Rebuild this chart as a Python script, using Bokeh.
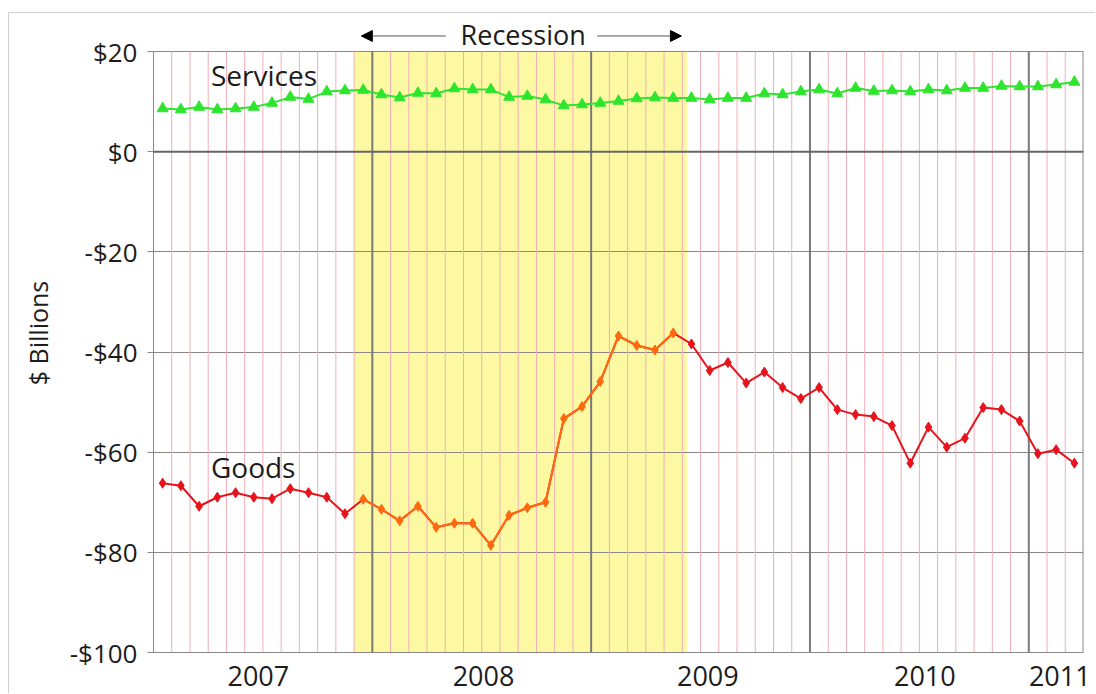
from bokeh.plotting import figure
from bokeh.models import FixedTicker, Span, BoxAnnotation, Arrow, NormalHead, ColumnDataSource
from bokeh.embed import file_html
from bokeh.resources import INLINE
from bokeh.core.properties import value

# ---------------- data ----------------
months = [f"{y}-{m:02d}" for y in range(2007, 2012) for m in range(1, 13)][:51]

services = [8.6, 8.4, 8.9, 8.4, 8.6, 8.9, 9.7, 10.9, 10.5, 12.0,
            12.2, 12.3, 11.4, 10.8, 11.7, 11.6, 12.6, 12.4, 12.4, 10.9,
            11.1, 10.4, 9.2, 9.4, 9.7, 10.1, 10.6, 10.8, 10.7, 10.7,
            10.4, 10.7, 10.7, 11.6, 11.4, 12.0, 12.4, 11.6, 12.7, 12.1,
            12.2, 12.0, 12.4, 12.2, 12.7, 12.7, 13.1, 13.0, 13.0, 13.4,
            13.9]

goods = [-66.2, -66.7, -70.8, -69.0, -68.1, -69.0, -69.3, -67.3, -68.1, -69.0,
         -72.3, -69.4, -71.4, -73.7, -70.8, -75.0, -74.2, -74.2, -78.6, -72.6,
         -71.1, -70.0, -53.3, -50.9, -45.9, -36.8, -38.7, -39.6, -36.2, -38.4,
         -43.7, -42.1, -46.2, -44.0, -47.1, -49.3, -47.1, -51.5, -52.5, -52.9,
         -54.7, -62.2, -55.0, -59.0, -57.2, -51.1, -51.5, -53.8, -60.3, -59.5,
         -62.2]

y_ticks = [-100, -80, -60, -40, -20, 0, 20]
y_tick_labels = ["-$100", "-$80", "-$60", "-$40", "-$20", "$0", "$20"]
year_labels = ["2007", "2008", "2009", "2010", "2011"]
recession_first, recession_last = "2007-12", "2009-05"

# ---------------- layout helpers ----------------
x = list(range(len(months)))
FONT = "Open Sans"
TXT = "#1c1c1c"
YELLOW = "#fdf9a3"
RED = "#e8141c"
ORANGE = "#ff6a10"
GREEN = "#2de52d"

y_lo, y_hi = y_ticks[0], y_ticks[-1]
i_rec0 = months.index(recession_first)
i_rec1 = months.index(recession_last)
band_left = i_rec0 - 0.5
band_right = i_rec1 + 0.75

year_bounds = [i - 0.5 for i in x if months[i].endswith("-01") and i > 0]
month_bounds = [i + 0.5 for i in x[:-1] if (i + 0.5) not in year_bounds]
year_pos = [5.25, 17.6, 29.9, 41.8, 49.2]

PX_PER_UNIT = 601 / (y_hi - y_lo)
top_pad = 38 / PX_PER_UNIT  # space above the $20 line, inside the frame

p = figure(width=1087, height=681, output_backend="svg", toolbar_location=None,
           x_range=(-0.5, len(months) - 0.5), y_range=(y_lo, y_hi + top_pad),
           min_border_left=144, min_border_right=13, min_border_top=0, min_border_bottom=42,
           background_fill_color="white", border_fill_color="white")
p.margin = (12, 0, 0, 8)
p.styles = {"border-left": "1px solid #d0d0d0", "border-top": "1px solid #d0d0d0"}
p.outline_line_color = None

# recession band (below grid)
p.add_layout(BoxAnnotation(left=band_left, right=band_right, bottom=y_lo, top=y_hi,
                           fill_color=YELLOW, fill_alpha=1.0, line_color=None, level="image"))

# grids
p.xgrid.grid_line_color = None
p.ygrid.ticker = FixedTicker(ticks=y_ticks)
p.ygrid.grid_line_color = "#8f8585"
p.ygrid.grid_line_width = 1

# monthly pink lines, yearly gray lines, right border
p.segment(x0=month_bounds, y0=[y_lo] * len(month_bounds), x1=month_bounds,
          y1=[y_hi] * len(month_bounds), line_color="#f1aeb8", line_width=1)
p.segment(x0=year_bounds, y0=[y_lo] * len(year_bounds), x1=year_bounds,
          y1=[y_hi] * len(year_bounds), line_color="#7a7a7a", line_width=2)
p.segment(x0=[len(months) - 0.5], y0=[y_lo], x1=[len(months) - 0.5], y1=[y_hi],
          line_color="#8a8a8a", line_width=2)
p.add_layout(Span(location=0, dimension="width", line_color="#666666", line_width=2))

# axes
p.yaxis.ticker = FixedTicker(ticks=y_ticks)
p.yaxis.bounds = (y_lo, y_hi)
p.yaxis.major_label_overrides = dict(zip(y_ticks, y_tick_labels))
p.yaxis.major_label_text_font = FONT
p.yaxis.major_label_text_font_size = "26px"
p.yaxis.major_label_text_color = TXT
p.yaxis.major_tick_out = 6
p.yaxis.major_tick_in = 0
p.yaxis.major_tick_line_color = "#8a8a8a"
p.yaxis.minor_tick_line_color = None
p.yaxis.axis_line_color = "#8a8a8a"
p.yaxis.major_label_standoff = 10
p.yaxis.axis_label = "$ Billions"
p.yaxis.axis_label_text_font = FONT
p.yaxis.axis_label_text_font_size = "25px"
p.yaxis.axis_label_text_font_style = "normal"
p.yaxis.axis_label_text_color = TXT
p.yaxis.axis_label_standoff = 12

p.xaxis.ticker = FixedTicker(ticks=year_pos)
p.xaxis.major_label_overrides = dict(zip(year_pos, year_labels))
p.xaxis.major_label_text_font = FONT
p.xaxis.major_label_text_font_size = "27px"
p.xaxis.major_label_text_color = TXT
p.xaxis.major_tick_line_color = None
p.xaxis.minor_tick_line_color = None
p.xaxis.axis_line_color = "#8a8a8a"
p.xaxis.major_label_standoff = 7

# data
src = ColumnDataSource(dict(x=x, services=services, goods=goods, month=months))
rec_idx = list(range(i_rec0, i_rec1 + 1))
src_rec = ColumnDataSource(dict(x=[x[i] for i in rec_idx], goods=[goods[i] for i in rec_idx]))
out_idx = [i for i in x if i not in rec_idx]
src_out = ColumnDataSource(dict(x=[x[i] for i in out_idx], goods=[goods[i] for i in out_idx]))

p.line("x", "services", source=src, line_color=GREEN, line_width=2)
p.scatter("x", "services", source=src, marker="triangle", size=11,
          fill_color=GREEN, line_color=GREEN)

p.line("x", "goods", source=src, line_color=RED, line_width=2)
p.line("x", "goods", source=src_rec, line_color=ORANGE, line_width=2)
p.scatter("x", "goods", source=src_out, marker="diamond", size=10,
          fill_color=RED, line_color=RED)
p.scatter("x", "goods", source=src_rec, marker="diamond", size=10,
          fill_color=ORANGE, line_color=ORANGE)

# annotations (text glyphs inside the frame)
p.text(x=[2.65], y=[15.3], text=["Services"], text_font=value(FONT), text_font_size="28px",
       text_color=TXT, text_baseline="alphabetic")
p.text(x=[2.65], y=[-62.9], text=["Goods"], text_font=value(FONT), text_font_size="28px",
       text_color=TXT, text_baseline="alphabetic")

mid = (band_left + band_right) / 2
p.text(x=[mid + 0.15], y=[23.45], text=["Recession"], text_font=value(FONT),
       text_font_size="27px", text_color=TXT, text_align="center", text_baseline="middle")
p.add_layout(Arrow(x_start=mid - 4.1, y_start=23.1, x_end=band_left + 0.4, y_end=23.1,
                   line_color="#555555", line_width=1,
                   end=NormalHead(size=11, fill_color="black", line_color="black")))
p.add_layout(Arrow(x_start=mid + 4.2, y_start=23.1, x_end=band_right - 0.3, y_end=23.1,
                   line_color="#555555", line_width=1,
                   end=NormalHead(size=11, fill_color="black", line_color="black")))

open("out.html", "w").write(file_html(p, INLINE))
